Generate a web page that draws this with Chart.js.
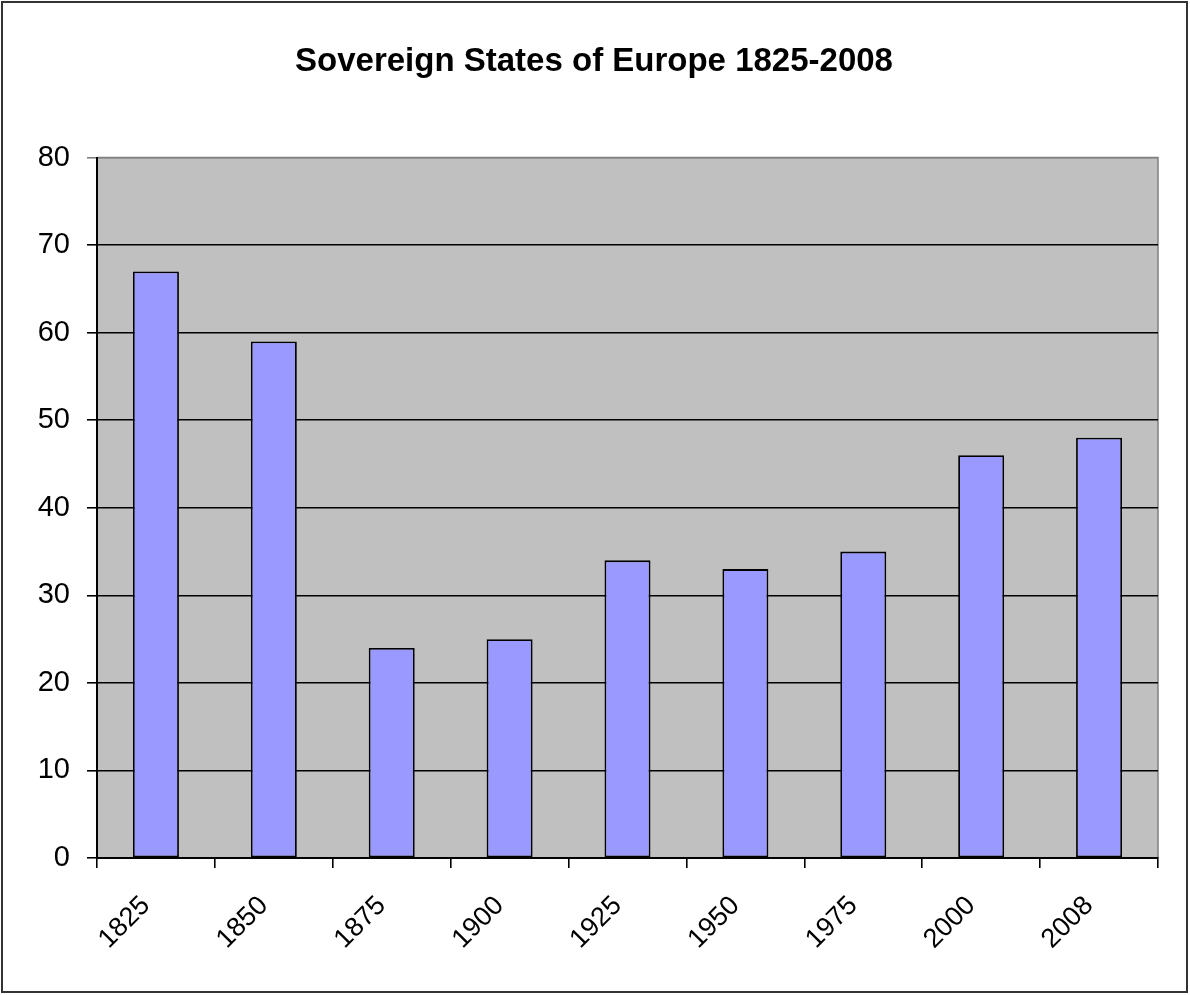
<!DOCTYPE html>
<html>
<head>
<meta charset="utf-8">
<script src="https://cdn.jsdelivr.net/npm/chart.js@4"></script>
<style>
  html, body { margin: 0; padding: 0; background: #fff; }
  #wrap { width: 1190px; height: 995px; }
</style>
</head>
<body>
<div id="wrap"><canvas id="states"></canvas></div>
<script>
const years = ['1825', '1850', '1875', '1900', '1925', '1950', '1975', '2000', '2008'];
const stateCounts = [67, 59, 24, 25, 34, 33, 35, 46, 48];
const yTicks = [0, 10, 20, 30, 40, 50, 60, 70, 80];

const font = 'Liberation Sans, Arial, sans-serif';

// gray plot area like the old Excel charts, plus the outer frame
const plotBackground = {
    id: 'plotBackground',
    beforeDraw(chart) {
        const { ctx, chartArea: a } = chart;
        ctx.save();
        ctx.strokeStyle = '#333';
        ctx.lineWidth = 2;
        ctx.strokeRect(2, 2, 1185, 990);
        ctx.fillStyle = '#c0c0c0';
        ctx.fillRect(a.left, a.top, a.right - a.left, a.bottom - a.top);
        ctx.strokeStyle = '#808080';
        ctx.lineWidth = 1.5;
        ctx.beginPath();
        ctx.moveTo(a.left, a.top);
        ctx.lineTo(a.right, a.top);
        ctx.lineTo(a.right, a.bottom);
        ctx.stroke();
        ctx.restore();
    }
};

const chart = new Chart(document.getElementById('states'), {
    type: 'bar',
    data: {
        labels: years,
        datasets: [{
            label: 'Sovereign states',
            data: stateCounts,
            backgroundColor: '#9999ff',
            borderColor: '#000',
            borderWidth: 1.8,
            borderSkipped: false,
            barPercentage: 0.39,
            categoryPercentage: 1
        }]
    },
    options: {
        responsive: true,
        maintainAspectRatio: false,
        animation: false,
        layout: { padding: { left: 30, right: 32, top: 0, bottom: 7 } },
        plugins: {
            legend: { display: false },
            tooltip: { enabled: false },
            title: {
                display: true,
                text: 'Sovereign States of Europe 1825-2008',
                color: '#000',
                font: { family: font, size: 33, weight: 'bold' },
                padding: { top: 42, bottom: 76 }
            }
        },
        scales: {
            x: {
                grid: { drawOnChartArea: false, color: '#000', tickLength: 10, lineWidth: 1.6 },
                border: { color: '#000', width: 2 },
                ticks: {
                    color: '#000',
                    font: { family: font, size: 27 },
                    minRotation: 45,
                    maxRotation: 45,
                    padding: 22,
                    labelOffset: -10
                },
                afterFit(scale) { scale.height = 130; }
            },
            y: {
                min: 0,
                max: 80,
                afterBuildTicks(scale) { scale.ticks = yTicks.map(v => ({ value: v })); },
                grid: {
                    color: ctx => ctx.tick && ctx.tick.value === 80 ? '#808080' : '#000',
                    lineWidth: 1.6,
                    tickLength: 10
                },
                border: { color: '#000', width: 2 },
                ticks: {
                    color: '#000',
                    font: { family: font, size: 29 },
                    padding: 17
                },
                afterFit(scale) { scale.width = 67; }
            }
        }
    },
    plugins: [plotBackground]
});
</script>
</body>
</html>
